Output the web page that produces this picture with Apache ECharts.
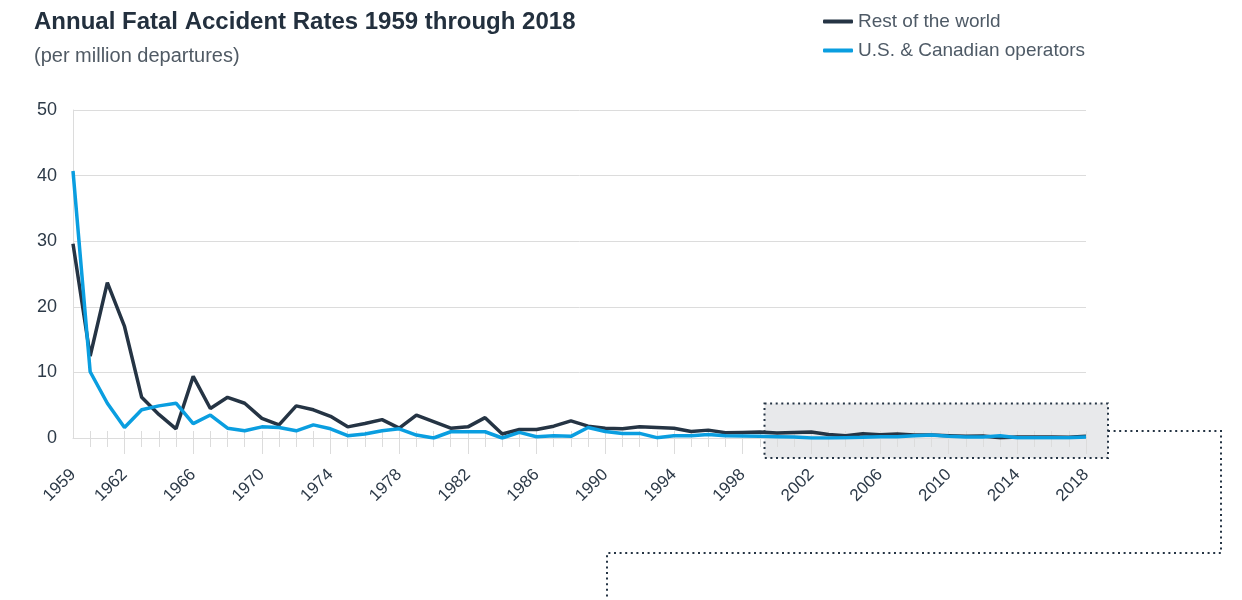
<!DOCTYPE html>
<html>
<head>
<meta charset="utf-8">
<script src="https://cdn.jsdelivr.net/npm/echarts@6/dist/echarts.min.js"></script>
<style>
  html, body { margin: 0; padding: 0; background: #fff; }
  #chart { width: 1242px; height: 600px; }
</style>
</head>
<body>
<div id="chart"></div>
<script>
// years 1959..2018
const years = Array.from({ length: 60 }, (_, i) => String(1959 + i))

// fatal accidents per million departures
const restOfWorld = [
  29.6, 12.5, 23.7, 17.0, 6.2, 3.6, 1.4, 9.4, 4.5, 6.2,
  5.3, 3.0, 2.0, 4.9, 4.3, 3.3, 1.7, 2.2, 2.8, 1.5,
  3.5, 2.5, 1.5, 1.7, 3.1, 0.6, 1.3, 1.3, 1.8, 2.6,
  1.8, 1.5, 1.4, 1.7, 1.6, 1.5, 1.0, 1.2, 0.8, 0.85,
  0.9, 0.75, 0.85, 0.9, 0.55, 0.35, 0.65, 0.5, 0.6, 0.45,
  0.45, 0.35, 0.25, 0.3, 0.05, 0.15, 0.15, 0.15, 0.1, 0.25
]
const usCanada = [
  40.7, 10.1, 5.3, 1.6, 4.3, 4.9, 5.3, 2.2, 3.5, 1.5,
  1.1, 1.7, 1.6, 1.1, 2.0, 1.4, 0.35, 0.6, 1.1, 1.4,
  0.45, 0.0, 0.95, 0.95, 0.95, 0.0, 0.85, 0.2, 0.35, 0.25,
  1.6, 1.0, 0.7, 0.7, 0.05, 0.35, 0.35, 0.55, 0.35, 0.3,
  0.25, 0.2, 0.15, 0.0, 0.0, 0.05, 0.1, 0.2, 0.2, 0.35,
  0.45, 0.25, 0.15, 0.15, 0.35, 0.05, 0.05, 0.05, 0.05, 0.15
]
const yTicks = [0, 10, 20, 30, 40, 50]

const DARK = '#253444'
const BLUE = '#0a9ee0'
const TEXT = '#2d3a48'
const GRID = '#dcdcdc'
const FONT = '"Liberation Sans", Arial, sans-serif'

// label on first year and every 4th year from 1962
const isLabel = (idx) => idx === 0 || (idx - 3) % 4 === 0
const isLong = (idx) => idx > 0 && (idx - 3) % 4 === 0

const chart = echarts.init(document.getElementById('chart'))

const baseX = {
  type: 'category',
  data: years,
  boundaryGap: false,
  position: 'bottom',
  axisLine: { show: false },
  axisLabel: { show: false },
  splitLine: { show: false }
}

chart.setOption({
  animation: false,
  textStyle: { fontFamily: FONT },
  title: {
    text: 'Annual Fatal Accident Rates 1959 through 2018',
    subtext: '(per million departures)',
    left: 29,
    top: 5,
    itemGap: 12,
    textStyle: { fontSize: 24, fontWeight: 'bold', color: '#23303e', fontFamily: FONT },
    subtextStyle: { fontSize: 20, color: '#505a64', fontFamily: FONT }
  },
  legend: {
    data: ['Rest of the world', 'U.S. & Canadian operators'],
    orient: 'vertical',
    left: 818,
    top: 6,
    icon: 'roundRect',
    itemWidth: 30,
    itemHeight: 4,
    itemGap: 8,
    textStyle: { fontSize: 19, color: '#4e5a66', lineHeight: 21, fontFamily: FONT }
  },
  grid: { left: 73, right: 156, top: 110, bottom: 162, containLabel: false },
  xAxis: [
    {
      ...baseX,
      axisLine: { show: true, lineStyle: { color: GRID } },
      axisTick: { show: true, interval: (i) => isLong(i), length: 16, lineStyle: { color: GRID } },
      axisLabel: {
        show: true,
        interval: (i) => isLabel(i),
        rotate: 45,
        margin: 34,
        fontSize: 17,
        color: TEXT,
        fontFamily: FONT
      }
    },
    {
      ...baseX,
      axisTick: { show: true, interval: (i) => i > 0, length: 9, lineStyle: { color: GRID } }
    },
    {
      ...baseX,
      axisTick: { show: true, inside: true, interval: (i) => i > 0, length: 7, lineStyle: { color: GRID } }
    }
  ],
  yAxis: {
    type: 'value',
    min: yTicks[0],
    max: yTicks[yTicks.length - 1],
    interval: 10,
    axisLine: { show: true, lineStyle: { color: GRID } },
    axisTick: { show: false },
    axisLabel: { margin: 16, fontSize: 18, color: TEXT, fontFamily: FONT },
    splitLine: { show: true, lineStyle: { color: GRID } }
  },
  series: [
    {
      name: 'Rest of the world',
      type: 'line',
      data: restOfWorld,
      showSymbol: false,
      symbol: 'none',
      lineStyle: { color: DARK, width: 3.5 },
      itemStyle: { color: DARK },
      z: 3
    },
    {
      name: 'U.S. & Canadian operators',
      type: 'line',
      data: usCanada,
      showSymbol: false,
      symbol: 'none',
      lineStyle: { color: BLUE, width: 3.5 },
      itemStyle: { color: BLUE },
      z: 4
    }
  ],
  graphic: [
    {
      type: 'rect',
      z: -10,
      shape: { x: 764.5, y: 403.5, width: 343.5, height: 54.5 },
      style: { fill: '#e8e9eb', stroke: DARK, lineWidth: 2, lineDash: [2, 3.6] }
    },
    {
      type: 'polyline',
      z: 10,
      shape: { points: [[1108, 431], [1221, 431], [1221, 553], [607, 553], [607, 600]] },
      style: { fill: null, stroke: DARK, lineWidth: 2, lineDash: [2, 3.6] }
    }
  ]
})
</script>
</body>
</html>
